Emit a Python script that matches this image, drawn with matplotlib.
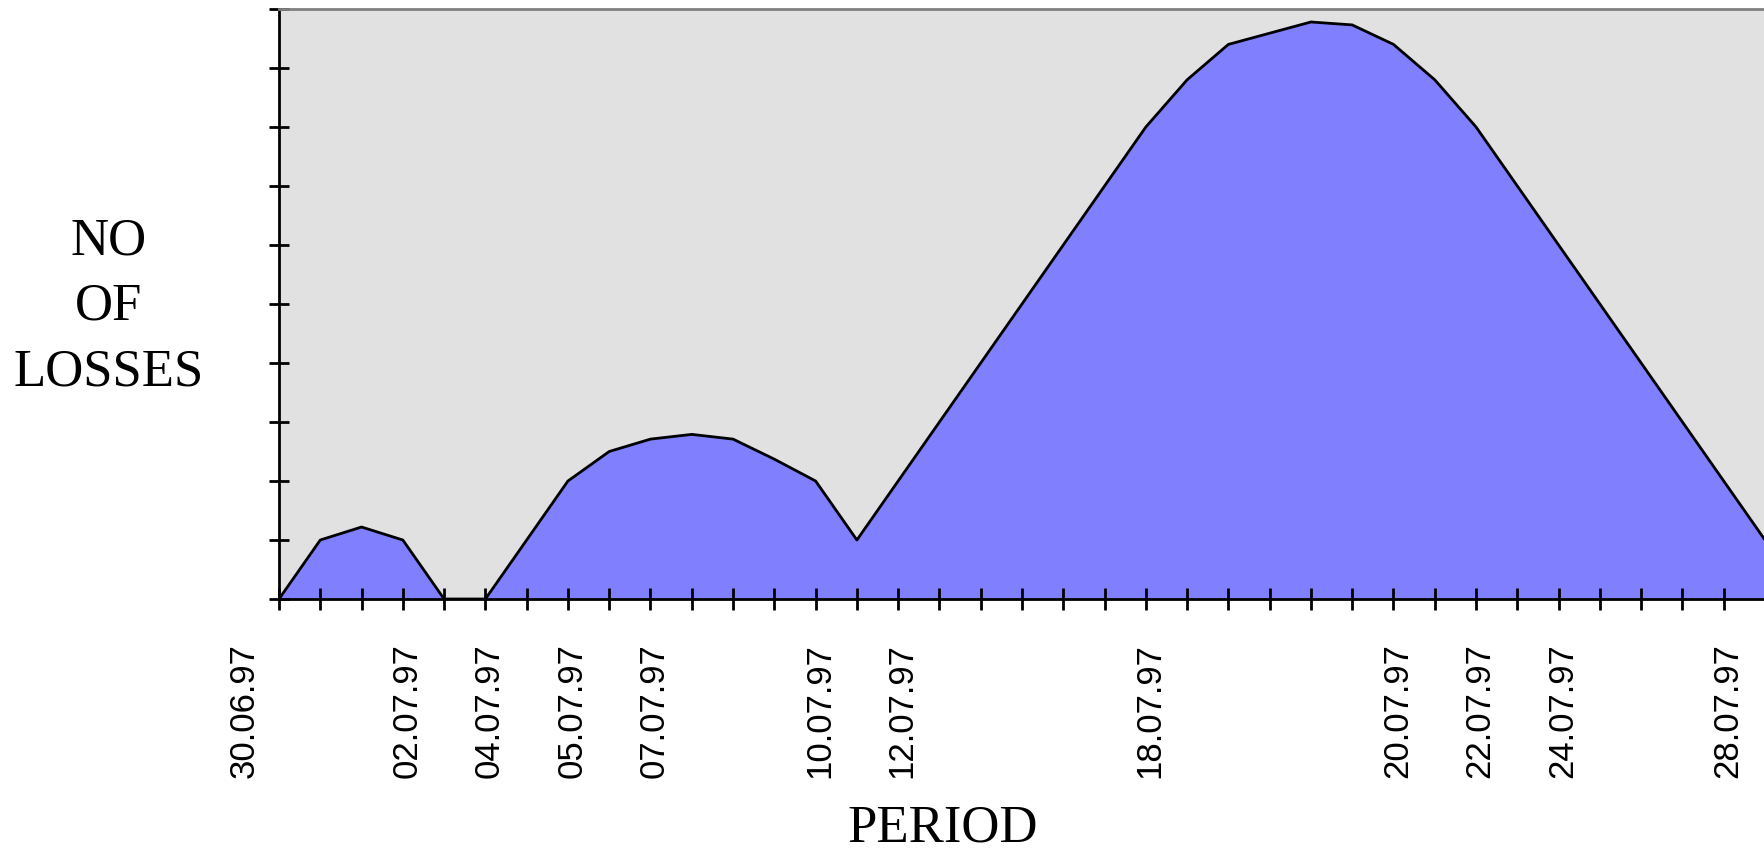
import matplotlib.pyplot as plt
import matplotlib.transforms as mtransforms

# perdas por dia (um ponto por marca do eixo x)
losses = [0, 1, 1.22, 1, 0, 0, 1, 2, 2.5, 2.71, 2.79, 2.71, 2.37, 2, 1,
          2, 3, 4, 5, 6, 7, 8, 8.8, 9.4, 9.59, 9.78, 9.73, 9.4, 8.8, 8,
          7, 6, 5, 4, 3, 2, 1]
days = list(range(len(losses)))

# datas mostradas no eixo x
label_pos = [0, 3, 5, 7, 9, 13, 15, 21, 27, 29, 31, 35]
label_txt = ['30.06.97', '02.07.97', '04.07.97', '05.07.97', '07.07.97',
             '10.07.97', '12.07.97', '18.07.97', '20.07.97', '22.07.97',
             '24.07.97', '28.07.97']
tick_txt = [''] * len(days)
for p, t in zip(label_pos, label_txt):
    tick_txt[p] = t

fig = plt.figure(figsize=(17.65, 8.56), dpi=100)
ax = fig.add_axes([279 / 1765, 1 - 599 / 856, 1 - 279 / 1765, 590 / 856])
ax.set_facecolor('#e1e1e1')

ax.fill_between(days, losses, 0, color='#8080ff', linewidth=0)
ax.plot(days, losses, color='black', linewidth=2)

ax.set_xlim(0, 36)
ax.set_ylim(0, 10)
ax.set_xticks(days)
ax.set_xticklabels(tick_txt, rotation=90, fontsize=25, family='Liberation Sans')
ax.set_yticks(range(11))
ax.set_yticklabels([])
ax.tick_params(axis='both', direction='inout', width=2, color='black')
ax.tick_params(axis='x', length=16, pad=24)
ax.tick_params(axis='y', length=14)

# pequeno deslocamento dos rótulos (o primeiro fica à esquerda do eixo)
for i, lab in enumerate(ax.get_xticklabels()):
    dx = -35 if i == 0 else 4
    offset = mtransforms.ScaledTranslation(dx / 100, 0, fig.dpi_scale_trans)
    lab.set_transform(lab.get_transform() + offset)

ax.spines['left'].set_linewidth(2)
ax.spines['bottom'].set_linewidth(2)
ax.spines['top'].set_color('#808080')
ax.spines['top'].set_linewidth(2)
ax.spines['right'].set_visible(False)

fig.text(109 / 1765, 1 - 307 / 856, 'NO\nOF\nLOSSES', ha='center', va='center',
         fontsize=38, family='Liberation Serif', linespacing=1.47)
fig.text(943 / 1765, 1 - 829 / 856, 'PERIOD', ha='center', va='center',
         fontsize=38, family='Liberation Serif')

plt.savefig('out.png', dpi=100)
